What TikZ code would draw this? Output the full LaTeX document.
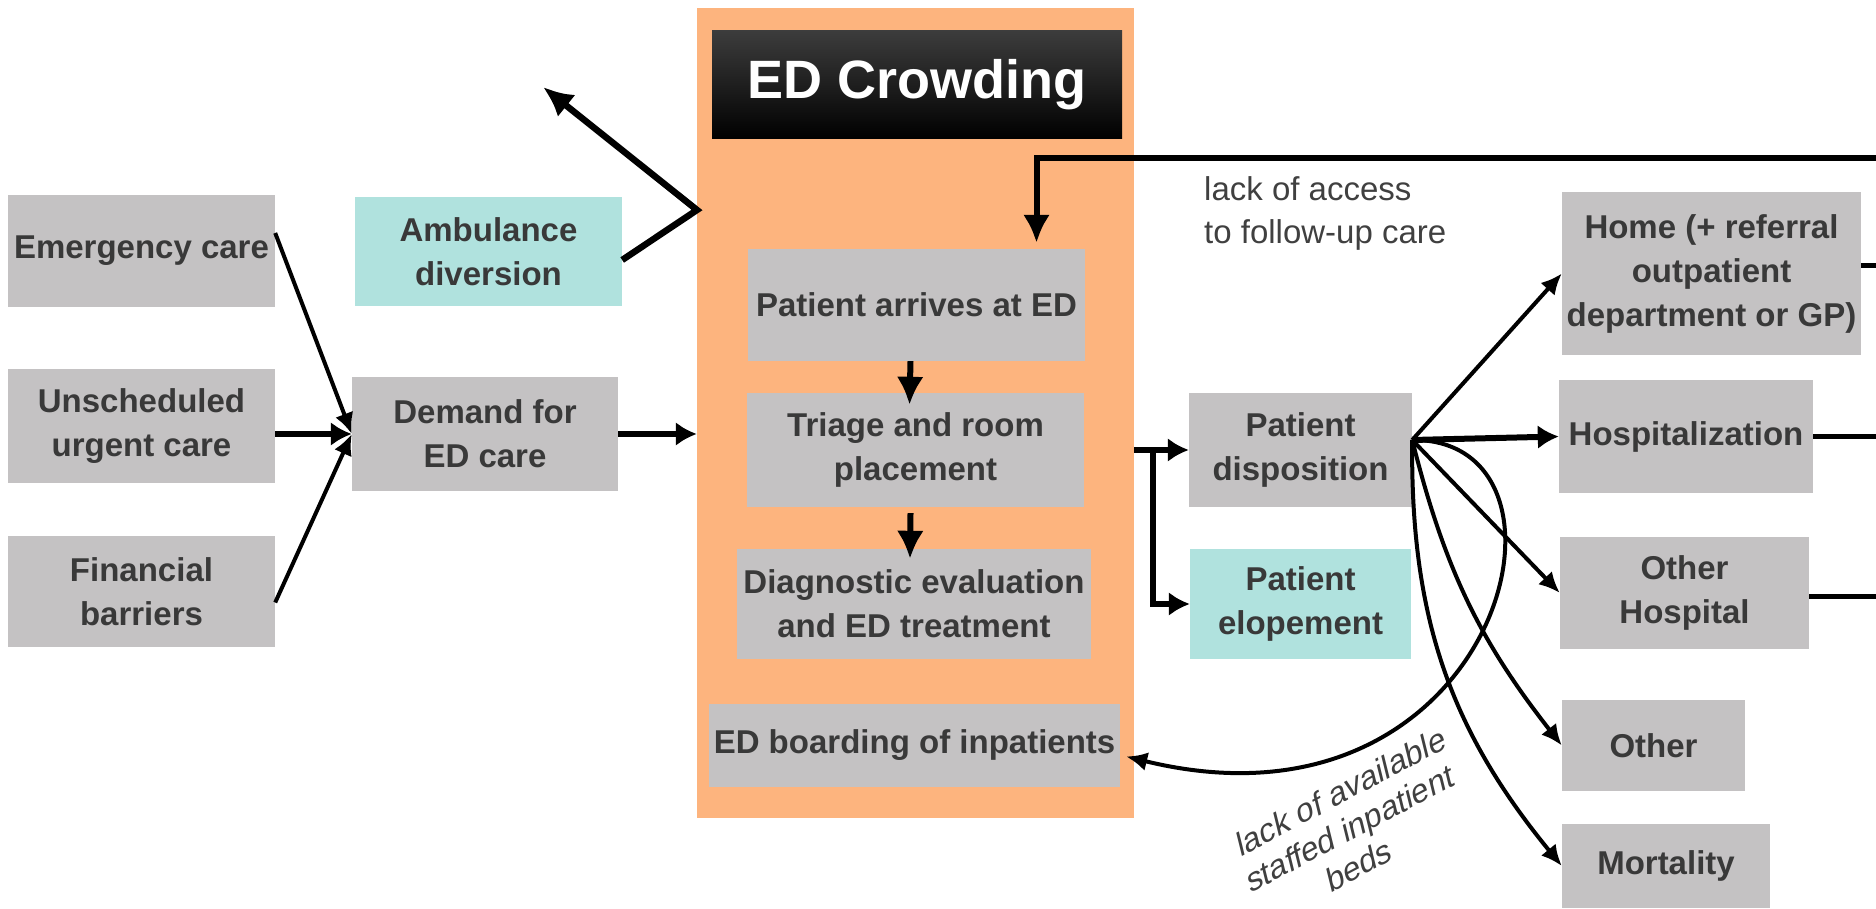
\documentclass[tikz,border=0pt]{standalone}
\usepackage{fontspec}
\setmainfont{Liberation Sans}
\usetikzlibrary{arrows.meta}
\definecolor{boxgray}{HTML}{C4C2C3}
\definecolor{boxcyan}{HTML}{B0E2DE}
\definecolor{edorange}{HTML}{FDB47E}
\definecolor{boxtext}{HTML}{393939}
\definecolor{notetext}{HTML}{404040}
\definecolor{hdrtop}{HTML}{3C3C3C}
\begin{document}
\begin{tikzpicture}[x=1pt,y=1pt,
        box/.style 2 args={fill=boxgray,text=boxtext,inner sep=0pt,align=center,
            minimum width=#1pt,minimum height=#2pt,font=\fontsize{33}{44}\selectfont\bfseries},
        cyanbox/.style 2 args={box={#1}{#2},fill=boxcyan},
        note/.style={text=notetext,inner sep=0pt,font=\fontsize{33}{43}\selectfont},
        arr/.style={line width=6pt,-{Latex[length=21pt,width=24pt]}},
        bigarr/.style={line width=6pt,-{Latex[length=28pt,width=27pt]}},
        thinarr/.style={line width=4pt,-{Latex[length=21pt,width=19pt]}}]
        \useasboundingbox (0,0) rectangle (1876,908);
        % the ED column
        \node[fill=edorange,inner sep=0pt,minimum width=437pt,minimum height=810pt] (ed) at (915.5,495) {};
        \node[shade,top color=hdrtop,bottom color=black,text=white,inner sep=0pt,
            minimum width=410pt,minimum height=108pt,font=\fontsize{54}{60}\selectfont\bfseries] (crowd) at (917,823) {ED Crowding};
        \node[box={337}{112}] (arrives) at (916.5,603) {Patient arrives at ED};
        \node[box={337}{114}] (triage) at (915.5,458) {Triage and room\\placement};
        \node[box={354}{110}] (diag) at (914,304) {Diagnostic evaluation\\and ED treatment};
        \node[box={411}{83}] (boarding) at (914.5,162.5) {ED boarding of inpatients};
        % input side
        \node[box={267}{112}] (ecare) at (141.5,657) {Emergency care};
        \node[box={267}{114}] (urgent) at (141.5,482) {Unscheduled\\urgent care};
        \node[box={267}{111}] (financial) at (141.5,316.5) {Financial\\barriers};
        \node[cyanbox={267}{109}] (ambulance) at (488.5,656.5) {Ambulance\\diversion};
        \node[box={266}{114}] (demand) at (485,474) {Demand for\\ED care};
        % output side
        \node[box={223}{114}] (dispo) at (1300.5,458) {Patient\\disposition};
        \node[cyanbox={221}{110}] (elope) at (1300.5,304) {Patient\\elopement};
        \node[box={299}{163}] (home) at (1711.5,634.5) {Home (+ referral\\outpatient\\department or GP)};
        \node[box={254}{113}] (hosp) at (1686,471.5) {Hospitalization};
        \node[box={249}{112}] (otherhosp) at (1684.5,315) {Other\\Hospital};
        \node[box={183}{91}] (other) at (1653.5,162.5) {Other};
        \node[box={208}{84}] (mortality) at (1666,42) {Mortality};
        \node[note,anchor=west,align=left] (access) at (1204,694.5) {lack of access\\to follow-up care};
        \node[note,align=center,font=\fontsize{33}{38}\selectfont,cm={0.883,0.469,-0.24,0.971,(0,0)}] (beds) at (1350,80) {lack of available\\staffed inpatient\\beds};
        \coordinate (kink) at (697,698);
        \coordinate (divert) at (543,821);
        \coordinate (fbstart) at (1876,750);
        \coordinate (edge) at (1876,0);
        \coordinate (fan) at ([yshift=10pt]dispo.east);
        % connectors
        \draw[thinarr] ([yshift=18pt]ecare.east) -- (demand.west);
        \draw[arr] (urgent.east |- demand.west) -- (demand.west);
        \draw[thinarr] ([yshift=-11pt]financial.east) -- (demand.west);
        \draw[arr] (demand.east) -- (demand.east -| ed.west);
        \draw[line width=6.5pt,-{Latex[length=30pt,width=28pt]}] ([yshift=-8.5pt]ambulance.east) -- (kink) -- (divert);
        \draw[bigarr] ([xshift=-6pt]arrives.south) -- ([xshift=-6pt,yshift=-12pt]triage.north);
        \draw[bigarr] ([xshift=-5pt,yshift=-6pt]triage.south) -- ([xshift=-4pt,yshift=-10pt]diag.north);
        \draw[arr] (ed.east |- dispo.west) -- (dispo.west);
        \draw[arr] ([xshift=19pt]ed.east |- dispo.west) |- (elope.west);
        \draw[bigarr] (fbstart) -| ([xshift=120pt,yshift=6pt]arrives.north);
        \draw[thinarr] (fan) -- (home.west);
        \draw[arr] (fan) -- (hosp.west);
        \draw[thinarr] (fan) -- (otherhosp.west);
        \draw[thinarr] (fan) to[bend right=12] (other.west);
        \draw[thinarr] (fan) to[bend right=20] (mortality.west);
        \draw[thinarr] (fan) .. controls (1600,470) and (1500,60) .. ([xshift=6pt,yshift=-11pt]boarding.east);
        \draw[line width=5pt] ([yshift=8pt]home.east) -- ([yshift=8pt]home.east -| edge);
        \draw[line width=5pt] (hosp.east) -- (hosp.east -| edge);
        \draw[line width=5pt] ([yshift=-4pt]otherhosp.east) -- ([yshift=-4pt]otherhosp.east -| edge);
\end{tikzpicture}
\end{document}
